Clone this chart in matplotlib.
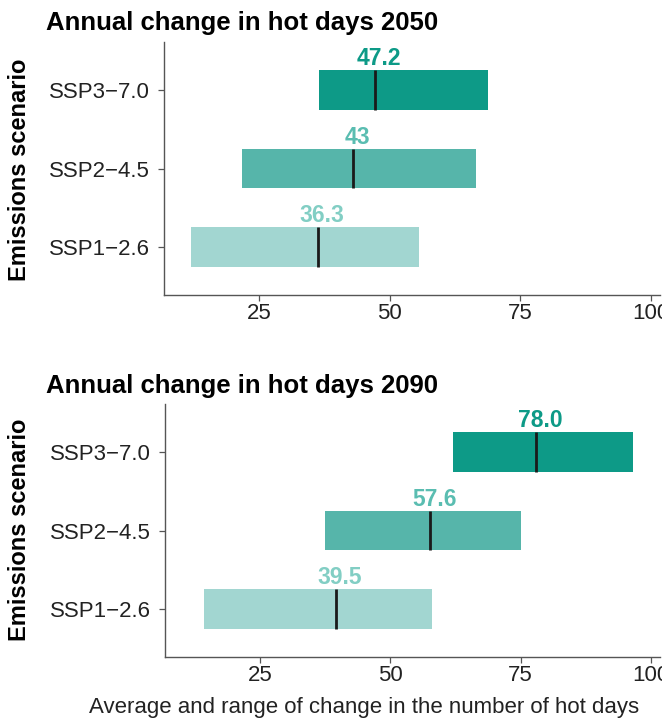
import matplotlib
matplotlib.use("Agg")
import matplotlib.pyplot as plt
import numpy as np

plt.rcParams["font.family"] = ["Liberation Sans", "DejaVu Sans"]

scenarios = ["SSP1\u22122.6", "SSP2\u22124.5", "SSP3\u22127.0"]

mean_2050 = [36.3, 43.0, 47.2]
label_2050 = ["36.3", "43", "47.2"]
low_2050 = [11.9, 21.7, 36.4]
high_2050 = [55.5, 66.4, 68.7]

mean_2090 = [39.5, 57.6, 78.0]
label_2090 = ["39.5", "57.6", "78.0"]
low_2090 = [14.2, 37.5, 62.0]
high_2090 = [58.0, 75.0, 96.6]

bar_colors = ["#A2D6D1", "#56B5AA", "#0D9A87"]
text_colors = ["#82CEC4", "#5ABDB1", "#0D9A87"]
x_ticks = [25, 50, 75, 100]


def draw_panel(ax, mean, labels, low, high):
    y = np.arange(len(scenarios))
    h = 0.5
    widths = np.array(high) - np.array(low)
    ax.barh(y, widths, left=low, height=h, color=bar_colors, edgecolor="none")
    ax.vlines(mean, y - h / 2, y + h / 2, color="#1a1a1a", lw=2)
    # value labels sit just above each bar, centred on the mean
    for yi, m, lab, c in zip(y, mean, labels, text_colors):
        ax.text(m + 0.8, yi + h / 2 + 0.0, lab, ha="center", va="bottom",
                fontsize=16.5, fontweight="bold", color=c)
    ax.set_yticks(y)
    ax.set_yticklabels(scenarios)
    ax.set_xticks(x_ticks)
    ax.set_xlim(6.8, 101.7)
    ax.set_ylim(-0.61, 2.61)
    for s in ["top", "right"]:
        ax.spines[s].set_visible(False)
    for s in ["left", "bottom"]:
        ax.spines[s].set_color("#555555")
        ax.spines[s].set_linewidth(1.0)
    ax.tick_params(axis="both", labelsize=16, colors="#555555", labelcolor="#222222",
                   length=4, width=0.9)
    ax.tick_params(axis="y", pad=6)
    ax.tick_params(axis="x", pad=2)


fig = plt.figure(figsize=(6.62, 7.22), dpi=100)
ax1 = fig.add_axes([0.2477, 0.5914, 0.7493, 0.3504])
ax2 = fig.add_axes([0.2492, 0.0900, 0.7478, 0.3504])

draw_panel(ax1, mean_2050, label_2050, low_2050, high_2050)
draw_panel(ax2, mean_2090, label_2090, low_2090, high_2090)

fig.text(46 / 662, 1 - 30 / 722, "Annual change in hot days 2050", ha="left", va="baseline",
         fontsize=18.5, fontweight="bold")
fig.text(46 / 662, 1 - 393 / 722, "Annual change in hot days 2090", ha="left", va="baseline",
         fontsize=18.5, fontweight="bold")
fig.text(20 / 662, 1 - 170 / 722, "Emissions scenario", rotation=90, ha="center", va="center",
         fontsize=17, fontweight="bold")
fig.text(20 / 662, 1 - 530 / 722, "Emissions scenario", rotation=90, ha="center", va="center",
         fontsize=17, fontweight="bold")
fig.text(364 / 662, 1 - 707 / 722, "Average and range of change in the number of hot days",
         ha="center", va="center", fontsize=16, color="#222222")

fig.savefig("out.png", dpi=100)
